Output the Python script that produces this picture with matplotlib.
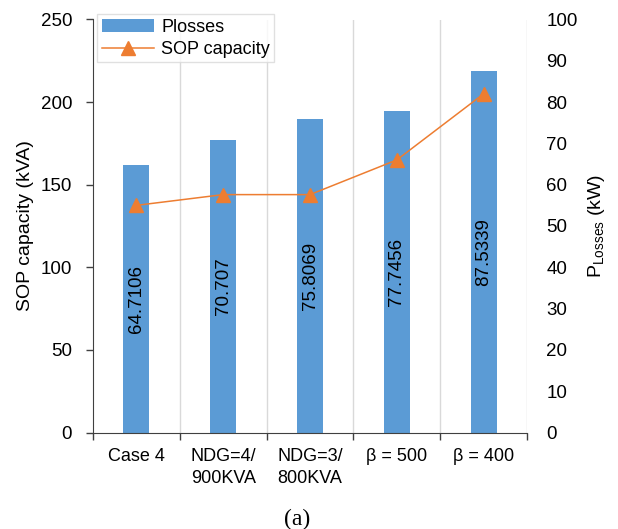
import matplotlib
matplotlib.use("Agg")
import matplotlib.pyplot as plt
import numpy as np

categories = ["Case 4", "NDG=4/\n900KVA", "NDG=3/\n800KVA", "β = 500", "β = 400"]
plosses = [64.7106, 70.707, 75.8069, 77.7456, 87.5339]
sop_capacity = [137.5, 144.0, 144.0, 165.0, 205.0]

plt.rcParams['font.family'] = ['Liberation Sans', 'DejaVu Sans']
plt.rcParams['mathtext.fontset'] = 'custom'
plt.rcParams['mathtext.rm'] = 'Liberation Sans'
plt.rcParams['mathtext.it'] = 'Liberation Sans:italic'

W, H = 618, 529
L, R, B, T = 93, 527, 432.5, 19.5

fig = plt.figure(figsize=(W/100, H/100), dpi=100)
ax = fig.add_axes([L/W, 1 - B/H, (R-L)/W, (B-T)/H])
ax2 = ax.twinx()

x = np.arange(len(categories))
bar_color = '#5B9BD5'
line_color = '#ED7D31'
grid_color = '#D9D9D9'
spine_color = '#404040'

boundaries = np.arange(-0.5, len(categories), 1)
for bx in boundaries[1:]:
    ax2.axvline(bx, color=grid_color, lw=1, zorder=0)

bars = ax2.bar(x, plosses, width=0.30, color=bar_color, label='Plosses', zorder=2)
for xi, v in zip(x, plosses):
    ax2.text(xi, v / 2, f"{v:g}", rotation=90, ha='center', va='center', fontsize=13.5,
             color='black', zorder=3)

ax.set_zorder(ax2.get_zorder() + 1)
ax.patch.set_visible(False)
line, = ax.plot(x, sop_capacity, color=line_color, lw=1.1, marker='^', markersize=10,
                label='SOP capacity')

ax.set_xlim(-0.5, len(categories) - 0.5)
ax.set_ylim(0, 250)
ax2.set_ylim(0, 100)
ax.set_yticks(np.arange(0, 251, 50))
ax2.set_yticks(np.arange(0, 101, 10))

ax.set_xticks(x)
ax.set_xticklabels(categories, fontsize=13)
for lbl in ax.get_xticklabels():
    lbl.set_linespacing(1.42)
ax.tick_params(axis='x', which='major', length=0, pad=11)
ax.set_xticks(boundaries, minor=True)
ax.tick_params(axis='x', which='minor', length=5, width=1, color=spine_color, direction='out')

ax.tick_params(axis='y', labelsize=13.5, length=5, width=1, color=spine_color, direction='out', pad=10)
ax2.tick_params(axis='y', labelsize=13.5, length=0, pad=14)

for s in ['top', 'right']:
    ax.spines[s].set_visible(False)
for s in ['top', 'right', 'left', 'bottom']:
    ax2.spines[s].set_visible(False)
ax.spines['left'].set_color(spine_color)
ax.spines['bottom'].set_color(spine_color)

ax.set_ylabel("SOP capacity (kVA)", fontsize=14, labelpad=5)
ax2.set_ylabel(r"$\mathrm{P}_{\mathrm{Losses}}$ (kW)", fontsize=14, labelpad=6)

leg = fig.legend([bars, line], ['Plosses', 'SOP capacity'], loc='upper left',
                 bbox_to_anchor=(97/W, 1 - 14/H), fontsize=13, frameon=True,
                 fancybox=False, edgecolor=grid_color, handlelength=2.9,
                 borderpad=0.25, labelspacing=0.3, handletextpad=0.4, borderaxespad=0)
leg.get_frame().set_linewidth(1)

fig.text(297/W, 1 - 519/H, "(a)", ha='center', va='center', fontsize=17,
         family=['Liberation Serif', 'DejaVu Serif'])

fig.savefig("out.png", dpi=100)
